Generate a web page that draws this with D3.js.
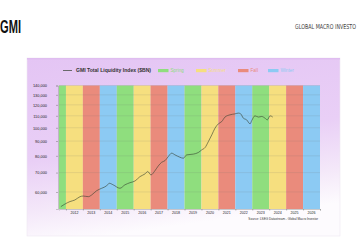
<!DOCTYPE html>
<html><head><meta charset="utf-8">
<script src="https://cdn.jsdelivr.net/npm/d3@7"></script>
<style>html,body{margin:0;padding:0;background:#fff;overflow:hidden}svg{display:block}</style>
</head><body>
<svg id="c" width="360" height="240"></svg>
<script>
// ---- data ----
const dates = [2011.70,2011.94,2012.24,2012.53,2012.83,2013.02,2013.32,2013.52,2013.81,2014.11,2014.40,2014.56,2014.79,2015.19,2015.48,2015.78,2016.08,2016.37,2016.67,2016.83,2017.02,2017.22,2017.45,2017.65,2017.85,2018.04,2018.24,2018.44,2018.73,2018.93,2019.13,2019.52,2019.81,2020.02,2020.21,2020.41,2020.61,2020.80,2021.00,2021.20,2021.39,2021.69,2021.98,2022.18,2022.32,2022.47,2022.67,2022.87,2022.97,2023.16,2023.36,2023.56,2023.75,2023.89,2024.05,2024.21];
const liquidity = [53400,54500,55600,56300,57800,58100,57800,58600,60600,61800,63000,64300,63500,61800,63500,64600,65500,67800,69300,70600,68700,70600,73800,76000,77000,79500,81700,80600,79100,78500,80600,81100,82100,83900,85400,89600,94500,99700,103200,105100,108900,110900,111700,112400,111700,108000,106500,103200,105900,110000,108900,109400,108000,106500,110000,108900];
const bandYears = [2011,2012,2013,2014,2015,2016,2017,2018,2019,2020,2021,2022,2023,2024,2025,2026];
const bandSeasons = ["Spring","Summer","Fall","Winter","Spring","Summer","Fall","Winter","Spring","Summer","Fall","Winter","Spring","Summer","Fall","Winter"];
const seasonNames = ["Spring","Summer","Fall","Winter"];
const seasonColors = ["#8fde7e","#f6df7f","#ea8b7c","#8ccaf3"];
const xTickLabels = [2012,2013,2014,2015,2016,2017,2018,2019,2020,2021,2022,2023,2024,2025,2026];
const yTicks = [60000,70000,80000,90000,100000,110000,120000,130000,140000];
const seriesName = "GMI Total Liquidity Index ($BN)";
const sourceText = "Source: LSEG Datastream - Global Macro Investor";

// ---- drawing ----
const svg = d3.select("#c");
const defs = svg.append("defs");
const g = defs.append("linearGradient").attr("id","bg").attr("x1",0).attr("y1",0).attr("x2",0.25).attr("y2",1);
g.append("stop").attr("offset",0).attr("stop-color","#e4c5f4");
g.append("stop").attr("offset",0.55).attr("stop-color","#e9cff6");
g.append("stop").attr("offset",0.82).attr("stop-color","#f4e8f9");
g.append("stop").attr("offset",1).attr("stop-color","#fdfbfe");

// header
svg.append("text").attr("x",0).attr("y",33).attr("font-family","Liberation Sans, Arial, sans-serif")
  .attr("font-weight","bold").attr("font-size",17.5).attr("fill","#111")
  .attr("textLength",21).attr("lengthAdjust","spacingAndGlyphs").text("GMI");
svg.append("text").attr("transform","translate(295,29.3) scale(1,1.35)")
  .attr("font-family","DejaVu Sans Condensed, DejaVu Sans, sans-serif")
  .attr("font-size",5).attr("fill","#444")
  .attr("textLength",61).attr("lengthAdjust","spacingAndGlyphs").text("GLOBAL MACRO INVESTO");

// panel
svg.append("rect").attr("x",27).attr("y",58).attr("width",313).attr("height",178)
  .attr("fill","url(#bg)").attr("stroke","#eee6f2").attr("stroke-width",0.6);
svg.append("rect").attr("x",27).attr("y",58).attr("width",313).attr("height",1.5).attr("fill","#dfbdf0");

const x = d3.scaleLinear().domain([2011.59, 2027.0]).range([59, 320]);
const y = d3.scaleLog().domain([52400, 140000]).range([209, 85.5]);
const color = d3.scaleOrdinal().domain(seasonNames).range(seasonColors);

// bands
svg.append("g").selectAll("rect").data(bandYears).join("rect")
  .attr("x", d => x(Math.max(d, x.domain()[0])))
  .attr("width", d => x(Math.min(d+1, x.domain()[1])) - x(Math.max(d, x.domain()[0])))
  .attr("y", y.range()[1]).attr("height", y.range()[0]-y.range()[1])
  .attr("fill", (d,i) => color(bandSeasons[i]));

// grid
svg.append("g").selectAll("line").data(yTicks).join("line")
  .attr("x1", x.range()[0]).attr("x2", x.range()[1])
  .attr("y1", d => y(d)).attr("y2", d => y(d))
  .attr("stroke","rgba(110,110,110,0.28)").attr("stroke-width",0.5);

// y axis
const yAxis = svg.append("g").attr("transform",`translate(${x.range()[0]-1},0)`)
  .call(d3.axisLeft(y).tickValues(yTicks).tickFormat(d3.format(",")).tickSize(2).tickPadding(9));
yAxis.select(".domain").attr("stroke","#999").attr("stroke-width",0.5);
yAxis.selectAll(".tick line").attr("stroke","#777").attr("stroke-width",0.5);
yAxis.selectAll("text").attr("font-family","Liberation Sans, Arial, sans-serif").attr("font-size",3.9).attr("fill","#222");

// x axis
const xAxis = svg.append("g").attr("transform",`translate(0,${y.range()[0]})`)
  .call(d3.axisBottom(x).tickValues(xTickLabels.concat([2027])).tickFormat("").tickSize(1.5));
xAxis.select(".domain").attr("stroke","#999").attr("stroke-width",0.5);
xAxis.selectAll(".tick line").attr("stroke","#777").attr("stroke-width",0.5);
svg.append("g").selectAll("text").data(xTickLabels).join("text")
  .attr("x", d => x(d+0.5)).attr("y", 214.3).attr("text-anchor","middle")
  .attr("font-family","Liberation Sans, Arial, sans-serif").attr("font-size",3.6).attr("fill","#222")
  .text(d => d);

// line
const pts = dates.map((d,i) => [d, liquidity[i]]);
svg.append("path").datum(pts)
  .attr("d", d3.line().x(d => x(d[0])).y(d => y(d[1])).curve(d3.curveMonotoneX))
  .attr("fill","none").attr("stroke","#34402f").attr("stroke-width",0.6);

// legend
svg.append("line").attr("x1",63).attr("x2",72).attr("y1",70.5).attr("y2",70.5).attr("stroke","#34402f").attr("stroke-width",0.7);
svg.append("text").attr("x",76).attr("y",72.3).attr("font-family","Liberation Sans, Arial, sans-serif")
  .attr("font-size",5).attr("font-weight","bold").attr("fill","#333")
  .attr("textLength",75).attr("lengthAdjust","spacingAndGlyphs").text(seriesName);
const legX = [158, 196, 238, 268];
const lg = svg.append("g").selectAll("g").data(seasonNames).join("g")
  .attr("transform",(d,i) => `translate(${legX[i]},69)`);
lg.append("rect").attr("width",10.5).attr("height",3.2).attr("fill", d => color(d));
lg.append("text").attr("x",12.5).attr("y",3.2).attr("font-family","Liberation Sans, Arial, sans-serif")
  .attr("font-size",4.6).attr("fill", d => color(d)).text(d => d);

// source
svg.append("text").attr("x",318).attr("y",219.5).attr("text-anchor","end")
  .attr("font-family","Liberation Sans, Arial, sans-serif").attr("font-size",3.1).attr("fill","#333")
  .text(sourceText);
</script>
</body></html>
